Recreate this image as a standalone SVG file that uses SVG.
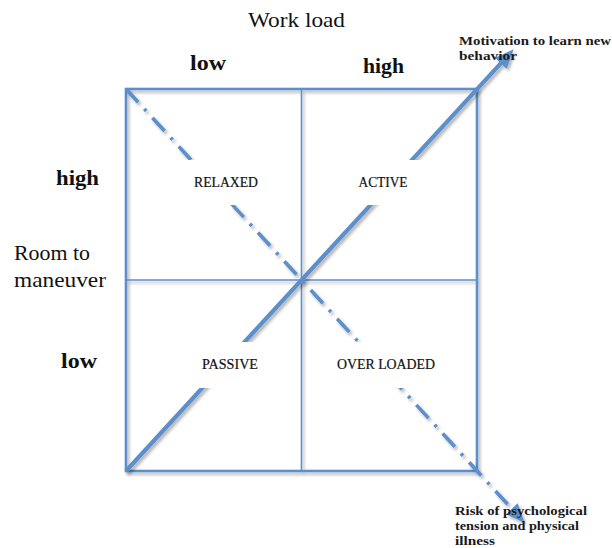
<svg xmlns="http://www.w3.org/2000/svg" width="612" height="548" viewBox="0 0 612 548">
  <defs>
    <filter id="sh" x="-10%" y="-10%" width="120%" height="120%">
      <feDropShadow dx="2" dy="2.5" stdDeviation="1.5" flood-color="#000" flood-opacity="0.3"/>
    </filter>
    <marker id="ah" markerUnits="userSpaceOnUse" markerWidth="20" markerHeight="16" refX="4" refY="8" orient="auto">
      <path d="M0,0 L19,8 L0,16 z" fill="#5b8fcb"/>
    </marker>
  </defs>
  <style>
    .grid { stroke: #5b8fcb; fill: none; }
    .outer { stroke-width: 2.6; }
    .inner { stroke-width: 1.6; }
    .conn { stroke: #5b8fcb; fill: none; }
    .solid { stroke-width: 4.2; }
    .dash { stroke-width: 3.6; stroke-dasharray: 18 9 3 9; }
    .lblbg { fill: #ffffff; }
    .q { font-family: "Liberation Serif", serif; font-size: 14px; fill: #111; text-anchor: middle; stroke: #111; stroke-width: 0.2; }
    .ax { font-family: "Liberation Serif", serif; font-size: 21px; fill: #111; }
    .axb { font-family: "Liberation Serif", serif; font-size: 21px; font-weight: bold; fill: #111; }
    .note { font-family: "Liberation Serif", serif; font-size: 13.5px; font-weight: bold; fill: #1a1a1a; }
  </style>
  <rect width="612" height="548" fill="#ffffff"/>

  <g id="grid" filter="url(#sh)">
    <rect class="grid outer" x="126" y="89" width="351" height="382"/>
    <line class="grid inner" x1="301.5" y1="89" x2="301.5" y2="471"/>
    <line class="grid inner" x1="126" y1="280" x2="477" y2="280"/>
  </g>

  <g id="connectors" filter="url(#sh)">
    <line class="conn solid" x1="126" y1="471" x2="503.5" y2="60.3" marker-end="url(#ah)"/>
    <line class="conn dash" x1="126" y1="89" x2="514.5" y2="511.7" marker-end="url(#ah)"/>
  </g>

  <g id="relaxed">
    <rect class="lblbg" x="150" y="160" width="146" height="45"/>
    <text class="q" x="226" y="187" textLength="64" lengthAdjust="spacingAndGlyphs">RELAXED</text>
  </g>
  <g id="active">
    <rect class="lblbg" x="308" y="160" width="150" height="45"/>
    <text class="q" x="383" y="187" textLength="49" lengthAdjust="spacingAndGlyphs">ACTIVE</text>
  </g>
  <g id="passive">
    <rect class="lblbg" x="150" y="342" width="146" height="46"/>
    <text class="q" x="230" y="369" textLength="56" lengthAdjust="spacingAndGlyphs">PASSIVE</text>
  </g>
  <g id="overloaded">
    <rect class="lblbg" x="308" y="342" width="160" height="46"/>
    <text class="q" x="386" y="369" textLength="98" lengthAdjust="spacingAndGlyphs">OVER LOADED</text>
  </g>

  <g id="axis-x">
    <text class="ax" x="248" y="27" textLength="97" lengthAdjust="spacingAndGlyphs">Work load</text>
    <text class="axb" x="190" y="70" textLength="36" lengthAdjust="spacingAndGlyphs">low</text>
    <text class="axb" x="363" y="73" textLength="41" lengthAdjust="spacingAndGlyphs">high</text>
  </g>
  <g id="axis-y">
    <text class="axb" x="56" y="185" textLength="43" lengthAdjust="spacingAndGlyphs">high</text>
    <text class="ax" x="14" y="260" textLength="76" lengthAdjust="spacingAndGlyphs">Room to</text>
    <text class="ax" x="14" y="287" textLength="92" lengthAdjust="spacingAndGlyphs">maneuver</text>
    <text class="axb" x="61" y="368" textLength="36" lengthAdjust="spacingAndGlyphs">low</text>
  </g>

  <g id="motivation">
    <text class="note" x="459" y="45" textLength="152" lengthAdjust="spacingAndGlyphs">Motivation to learn new</text>
    <text class="note" x="459" y="60" textLength="58" lengthAdjust="spacingAndGlyphs">behavior</text>
  </g>
  <g id="risk">
    <text class="note" x="455" y="515" textLength="132" lengthAdjust="spacingAndGlyphs">Risk of psychological</text>
    <text class="note" x="455" y="530" textLength="124" lengthAdjust="spacingAndGlyphs">tension and physical</text>
    <text class="note" x="455" y="545" textLength="40" lengthAdjust="spacingAndGlyphs">illness</text>
  </g>
</svg>
